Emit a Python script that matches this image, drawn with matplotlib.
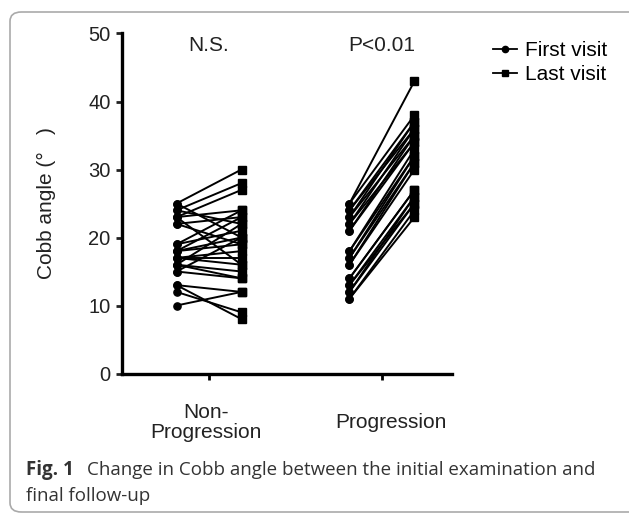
import numpy as np
import matplotlib.pyplot as plt
import matplotlib.transforms as mtransforms
from matplotlib.patches import FancyBboxPatch
from matplotlib.lines import Line2D

plt.rcParams['font.family'] = ['Liberation Sans', 'DejaVu Sans']

groups = ["Non-\nProgression", "Progression"]
labels_top = ["N.S.", "P<0.01"]

# Cobb angle pairs (first visit, last visit)
nonprog_first = [25, 24, 23, 23, 22, 25, 24, 19, 19, 18, 18, 17, 17, 16, 16, 16, 15, 15, 13, 13, 12, 10, 22, 23, 18, 17]
nonprog_last = [30, 28, 27, 24, 23, 20, 22, 24, 21, 20, 19, 18, 17, 22, 15, 14, 20, 14, 12, 8, 9, 12, 19, 16, 23, 16]
prog_first = [25, 25, 24, 24, 23, 23, 22, 22, 21, 21, 18, 18, 17, 17, 16, 16, 14, 14, 13, 13, 12, 12, 11, 11]
prog_last = [43, 38, 37, 36, 37, 35, 36, 34, 35, 34, 33, 32, 32, 31, 31, 30, 27, 27, 26, 25, 26, 25, 23, 24]

fig = plt.figure(figsize=(6.29, 5.13), dpi=100)
ax = fig.add_axes([0.194, 0.2719, 0.5246, 0.6628])

off = 0.188
for i, (first, last) in enumerate([(nonprog_first, nonprog_last), (prog_first, prog_last)]):
    for a, b in zip(first, last):
        ax.plot([i - off, i + off], [a, b], color='black', lw=1.4, zorder=2)
    ax.plot([i - off] * len(first), first, 'o', color='black', ms=5.2, zorder=3, ls='none')
    ax.plot([i + off] * len(last), last, 's', color='black', ms=5.4, zorder=3, ls='none')
    ax.text(i, 48.3, labels_top[i], ha='center', va='center', fontsize=15, color='#222222')

ax.set_xlim(-0.503, 1.405)
ax.set_ylim(0, 50)
ax.set_yticks([0, 10, 20, 30, 40, 50])
ax.set_xticks([0, 1])
ax.set_xticklabels(groups, fontsize=15, color='#222222', va='center', linespacing=1.05)
ax.tick_params(axis='y', labelsize=14.5, width=2, length=4.3, pad=4, colors='#222222')
ax.tick_params(axis='x', width=2, length=4, pad=31)
# shift category labels a bit sideways like the original
for lab, dx in zip(ax.get_xticklabels(), [-3, 9]):
    lab.set_transform(lab.get_transform() + mtransforms.ScaledTranslation(dx / 100, 0, fig.dpi_scale_trans))
ax.set_ylabel("Cobb angle (°   )", fontsize=15, color='#222222', labelpad=23)
for s in ['top', 'right']:
    ax.spines[s].set_visible(False)
for s in ['left', 'bottom']:
    ax.spines[s].set_linewidth(2.4)

handles = [Line2D([], [], color='black', marker='o', ms=4.5, lw=1.3),
           Line2D([], [], color='black', marker='s', ms=4.5, lw=1.3)]
fig.legend(handles, ["First visit", "Last visit"], loc='upper left',
           bbox_to_anchor=(493 / 629, 1 - 41 / 513), frameon=False, fontsize=15,
           handlelength=1.15, handletextpad=0.4, labelspacing=0.25,
           borderpad=0, borderaxespad=0)

# border and caption
box = FancyBboxPatch((10 / 629, 1 / 513), 1.2, 500 / 513,
                     boxstyle="round,pad=0,rounding_size=0.018",
                     transform=fig.transFigure, fill=False, ec='#aaaaaa', lw=1.2)
fig.patches.append(box)
fig.text(26 / 629, 1 - 470 / 513, "Fig. 1", fontsize=13.5, fontweight='bold',
         family='Open Sans', color='#333333', va='center')
fig.text(87 / 629, 1 - 470 / 513, "Change in Cobb angle between the initial examination and",
         fontsize=13.5, family='Open Sans', color='#333333', va='center')
fig.text(26 / 629, 1 - 496 / 513, "final follow-up", fontsize=13.5,
         family='Open Sans', color='#333333', va='center')

fig.savefig("out.png", dpi=100)
